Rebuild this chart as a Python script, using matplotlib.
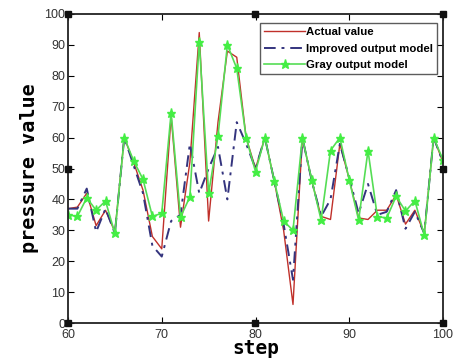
import matplotlib
matplotlib.use("Agg")
import matplotlib.pyplot as plt
import numpy as np

steps = list(range(60, 101))
actual = [37, 37.5, 42, 31.5, 36.5, 29.5, 60, 52, 43, 28, 24,
          67, 31, 52, 94, 33, 65, 88, 86, 60, 50,
          60, 46, 30, 6, 60, 46, 34.5, 33.5, 58, 46.5,
          34, 33.5, 36.5, 36.5, 41.5, 32, 36.5, 29, 60, 52]
improved = [37, 37, 43.5, 29.5, 37, 29, 60, 51, 42, 25, 21.5,
            33, 35, 58, 42, 50, 57, 40, 65, 58, 50,
            60, 46, 32, 14, 60, 46, 34.5, 40, 58, 47,
            35.5, 45, 35, 36, 43, 30.5, 36, 29, 60, 52]
gray = [35, 34.5, 40.5, 36.5, 39.5, 29, 60, 52.5, 46.5, 34.5, 35.5,
        68, 34.3, 40.8, 91, 42, 60.5, 90, 82.4, 60, 49,
        60, 46, 33, 30, 60, 46.3, 33.3, 55.8, 60, 46.3,
        33.3, 55.8, 34.4, 34, 41, 36.2, 39.6, 28.5, 60, 52.8]
labels = ["Actual value", "Improved output model", "Gray output model"]
xticks = [60, 70, 80, 90, 100]
yticks = list(range(0, 101, 10))

fig = plt.figure(figsize=(4.56, 3.59), dpi=100)
ax = fig.add_axes([68/456, 36/359, 375/456, 309/359])

ax.plot(steps, actual, color="#c0302a", lw=1.0, label=labels[0])
ax.plot(steps, improved, color="#34347e", lw=1.4, ls=(0, (6, 3, 1.5, 3)), label=labels[1])
ax.plot(steps, gray, color="#55dd55", lw=1.2, marker="*", ms=6.5,
        mfc="#44ee44", mec="#44ee44", label=labels[2])

ax.set_xlim(60, 100)
ax.set_ylim(0, 100)
ax.set_xticks(xticks)
ax.set_yticks(yticks)
ax.tick_params(direction="in", length=4, width=0.8, top=True, right=True,
               labelsize=9, labelcolor="#333333")
ax.tick_params(axis="x", pad=4)
ax.tick_params(axis="y", pad=2)
for lab in ax.get_xticklabels() + ax.get_yticklabels():
    lab.set_family("Liberation Sans")
for s in ax.spines.values():
    s.set_linewidth(1.3)
    s.set_color("#222222")

ax.set_xlabel("step", family="DejaVu Sans Mono", fontweight="bold", fontsize=14, labelpad=-1)
ax.set_ylabel("pressure value", family="DejaVu Sans Mono", fontweight="bold", fontsize=14.5, labelpad=4)

leg = ax.legend(loc="upper right", bbox_to_anchor=(0.985, 0.97), frameon=True, fancybox=False,
                prop={"family": "Liberation Sans", "weight": "bold", "size": 8.2},
                handlelength=3.6, handletextpad=0.1, labelspacing=0.55, borderpad=0.35,
                borderaxespad=0)
leg.get_frame().set_edgecolor("#333333")
leg.get_frame().set_linewidth(1.0)

# selection handles on the axes box
hx = [0, 0.5, 1, 0, 1, 0, 0.5, 1]
hy = [0, 0, 0, 0.5, 0.5, 1, 1, 1]
ax.plot(hx, hy, ls="none", marker="s", ms=5, mfc="#111111", mec="#111111",
        transform=ax.transAxes, clip_on=False, zorder=5)

fig.savefig("out.png", dpi=100)
